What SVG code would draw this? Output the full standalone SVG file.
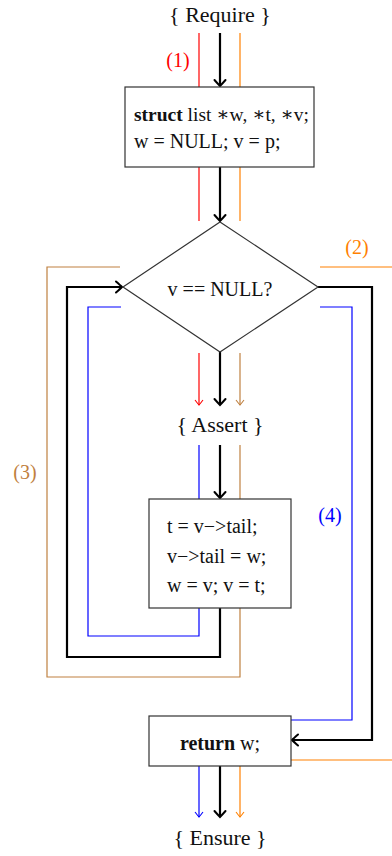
<svg xmlns="http://www.w3.org/2000/svg" width="392" height="856" viewBox="0 0 392 856">
<style>
text{font-family:"Liberation Serif","DejaVu Serif",serif;fill:#111}
.big{font-size:22px}
.mid{font-size:20px}
.lbl{font-size:20px}
.box{fill:#fff;stroke:#333;stroke-width:1.2}
.k{fill:none;stroke:#000;stroke-width:2.2}
.r{fill:none;stroke:#ff0000;stroke-width:1.2}
.o{fill:none;stroke:#ff8000;stroke-width:1.2}
.t{fill:none;stroke:#bf8040;stroke-width:1.2}
.b{fill:none;stroke:#0000ff;stroke-width:1.2}
</style>
<defs>
<marker id="ak" markerUnits="userSpaceOnUse" markerWidth="14" markerHeight="14" refX="0" refY="0" viewBox="-8 -7 10 14" orient="auto" overflow="visible">
<path d="M-6,-5.5 Q-1.5,-1.5 0,0 Q-1.5,1.5 -6,5.5" fill="none" stroke="#000" stroke-width="2" stroke-linecap="round"/>
</marker>
<marker id="ar" markerUnits="userSpaceOnUse" markerWidth="10" markerHeight="10" refX="0" refY="0" viewBox="-6 -5 8 10" orient="auto" overflow="visible">
<path d="M-5,-4 Q-1,-1 0,0 Q-1,1 -5,4" fill="none" stroke="#ff0000" stroke-width="1.1"/>
</marker>
<marker id="ao" markerUnits="userSpaceOnUse" markerWidth="10" markerHeight="10" refX="0" refY="0" viewBox="-6 -5 8 10" orient="auto" overflow="visible">
<path d="M-5,-4 Q-1,-1 0,0 Q-1,1 -5,4" fill="none" stroke="#ff8000" stroke-width="1.1"/>
</marker>
<marker id="at" markerUnits="userSpaceOnUse" markerWidth="10" markerHeight="10" refX="0" refY="0" viewBox="-6 -5 8 10" orient="auto" overflow="visible">
<path d="M-5,-4 Q-1,-1 0,0 Q-1,1 -5,4" fill="none" stroke="#bf8040" stroke-width="1.1"/>
</marker>
<marker id="ab" markerUnits="userSpaceOnUse" markerWidth="10" markerHeight="10" refX="0" refY="0" viewBox="-6 -5 8 10" orient="auto" overflow="visible">
<path d="M-5,-4 Q-1,-1 0,0 Q-1,1 -5,4" fill="none" stroke="#0000ff" stroke-width="1.1"/>
</marker>
</defs>

<g id="connectors">
<line class="r" x1="199" y1="33" x2="199" y2="87"/>
<line class="o" x1="240" y1="33" x2="240" y2="87"/>
<line class="k" x1="220" y1="33" x2="220" y2="86" marker-end="url(#ak)"/>
<line class="r" x1="199" y1="167" x2="199" y2="221"/>
<line class="o" x1="240" y1="167" x2="240" y2="221"/>
<line class="k" x1="220" y1="167" x2="220" y2="221" marker-end="url(#ak)"/>
<line class="r" x1="199" y1="353" x2="199" y2="405" marker-end="url(#ar)"/>
<line class="t" x1="240" y1="353" x2="240" y2="405" marker-end="url(#at)"/>
<line class="k" x1="220" y1="352" x2="220" y2="405" marker-end="url(#ak)"/>
<line class="b" x1="199" y1="445" x2="199" y2="499"/>
<line class="t" x1="240" y1="445" x2="240" y2="499"/>
<line class="k" x1="220" y1="445" x2="220" y2="498" marker-end="url(#ak)"/>
<polyline class="k" points="220,608 220,657 67,657 67,287 122,287" marker-end="url(#ak)"/>
<polyline class="t" points="120,267 47,267 47,677 240,677 240,608"/>
<polyline class="b" points="121,307 88,307 88,636 199,636 199,608"/>
<polyline class="k" points="318,287 372,287 372,740 292,740" marker-end="url(#ak)"/>
<polyline class="b" points="320,307 352,307 352,720 291,720"/>
<line class="o" x1="320" y1="267" x2="392" y2="267"/>
<line class="o" x1="291" y1="760" x2="392" y2="760"/>
<line class="b" x1="199" y1="766" x2="199" y2="817" marker-end="url(#ab)"/>
<line class="o" x1="240" y1="766" x2="240" y2="817" marker-end="url(#ao)"/>
<line class="k" x1="220" y1="766" x2="220" y2="817" marker-end="url(#ak)"/>
</g>

<g id="require"><text class="big" x="220" y="22" text-anchor="middle">{ Require }</text></g>
<g id="label1"><text class="lbl" x="178" y="67" text-anchor="middle" style="fill:#ff0000">(1)</text></g>
<g id="init">
<rect class="box" x="125" y="87" width="189" height="80"/>
<text x="134" y="121" style="font-size:19.5px"><tspan font-weight="bold">struct</tspan> list ∗w, ∗t, ∗v;</text>
<text class="mid" x="134" y="148">w = NULL; v = p;</text>
</g>
<g id="cond">
<polygon class="box" points="220,222 318,287 220,352 123,287"/>
<text class="mid" x="220" y="296" text-anchor="middle">v == NULL?</text>
</g>
<g id="label2"><text class="lbl" x="357" y="254" text-anchor="middle" style="fill:#ff8000">(2)</text></g>
<g id="assert"><text class="big" x="220" y="432" text-anchor="middle">{ Assert }</text></g>
<g id="label3"><text class="lbl" x="25" y="479" text-anchor="middle" style="fill:#bf8040">(3)</text></g>
<g id="body">
<rect class="box" x="149" y="499" width="142" height="109"/>
<text class="mid" x="167" y="533">t = v−&gt;tail;</text>
<text class="mid" x="167" y="563">v−&gt;tail = w;</text>
<text class="mid" x="167" y="592">w = v; v = t;</text>
</g>
<g id="label4"><text class="lbl" x="330" y="522" text-anchor="middle" style="fill:#0000ff">(4)</text></g>
<g id="ret">
<rect class="box" x="149" y="716" width="142" height="50"/>
<text class="mid" x="220" y="750" text-anchor="middle"><tspan font-weight="bold">return</tspan> w;</text>
</g>
<g id="ensure"><text class="big" x="220" y="845" text-anchor="middle">{ Ensure }</text></g>
</svg>
